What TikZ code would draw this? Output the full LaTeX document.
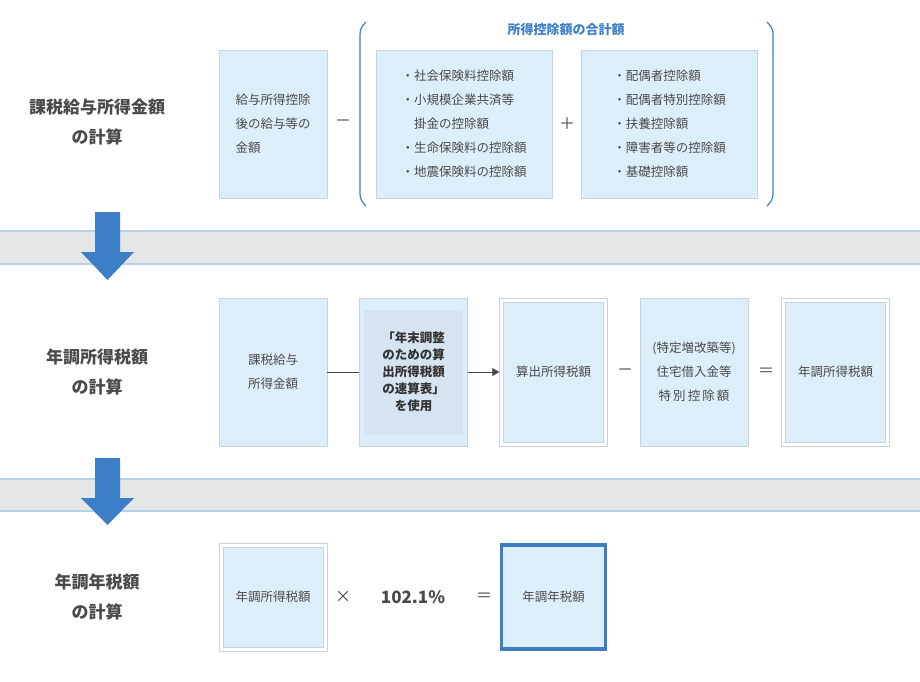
\documentclass[tikz,border=0pt]{standalone}
\usepackage{fontspec}
\setmainfont{Noto Sans CJK JP}
\usetikzlibrary{positioning, arrows.meta}
\definecolor{boxblue}{HTML}{DDEEFB}
\definecolor{boxline}{HTML}{C9D3DC}
\definecolor{innerblue}{HTML}{D6E4F1}
\definecolor{mainblue}{HTML}{3D7FC6}
\definecolor{textgray}{HTML}{4A4A4A}
\definecolor{bandgray}{HTML}{E6E6E6}
\definecolor{bandline}{HTML}{B5D1EC}

\begin{document}
\begin{tikzpicture}[x=1pt, y=-1pt,
        every node/.style={text=textgray},
        calcbox/.style={rectangle, draw=boxline, fill=boxblue, minimum width=108pt, minimum height=148pt, align=center, font=\fontsize{12.5}{24}\selectfont},
        listbox/.style={rectangle, draw=boxline, fill=boxblue, minimum width=176pt, minimum height=148pt, align=left, font=\fontsize{12.5}{24}\selectfont},
        rowlabel/.style={align=center, font=\fontsize{17}{30}\selectfont\bfseries},
        opsign/.style={font=\fontsize{16}{16}\selectfont},
        band/.style={fill=bandgray},
        downarrow/.style={fill=mainblue}
    ]
        \useasboundingbox (0,0) rectangle (920,681);

        % bands between the rows
        \fill[band] (0,230) rectangle (920,265);
        \draw[bandline, line width=2pt] (0,231) -- (920,231) (0,264) -- (920,264);
        \fill[band] (0,478) rectangle (920,512);
        \draw[bandline, line width=2pt] (0,479) -- (920,479) (0,511) -- (920,511);
        \fill[downarrow] (95,212) -- (120,212) -- (120,252) -- (134,252) -- (107.5,280) -- (81,252) -- (95,252) -- cycle;
        \fill[downarrow] (95,458) -- (120,458) -- (120,498) -- (134,498) -- (107.5,525) -- (81,498) -- (95,498) -- cycle;

        % first row
        \node[rowlabel] (lab1) at (97,122) {課税給与所得金額\\の計算};
        \node[calcbox, align=left] (salary) at (273,124) {給与所得控除\\後の給与等の\\金額};
        \node[opsign] (minus1) at (343,123) {－};
        \node[listbox] (dedA) at (464,124) {・社会保険料控除額\\・小規模企業共済等\\\hspace{1em}掛金の控除額\\・生命保険料の控除額\\・地震保険料の控除額};
        \node[opsign] (plus1) at (567,124) {＋};
        \node[listbox] (dedB) at (669.5,124) {・配偶者控除額\\・配偶者特別控除額\\・扶養控除額\\・障害者等の控除額\\・基礎控除額};
        \node[font=\fontsize{13}{13}\selectfont\bfseries, text=mainblue] (total) at (566,30) {所得控除額の合計額};
        \draw[mainblue, line width=1.2pt] (366,22) to[out=225,in=90] (360,34) -- (360,194) to[out=270,in=135] (366,206);
        \draw[mainblue, line width=1.2pt] (767,22) to[out=-45,in=90] (773,34) -- (773,194) to[out=270,in=45] (767,206);

        % second row
        \node[rowlabel] (lab2) at (97,372) {年調所得税額\\の計算};
        \node[calcbox] (taxable) at (273,372) {課税給与\\所得金額};
        \node[calcbox] (table) at (413.5,372) {};
        \fill[innerblue] (364,310) rectangle (463,435);
        \node[align=center, font=\fontsize{12.5}{17}\selectfont\bfseries, text=black!80] (tabletext) at (413.5,372) {「年末調整\\のための算\\出所得税額\\の速算表」\\を使用};
        \node[calcbox, fill=white] (computed) at (553.5,372) {};
        \node[calcbox, minimum width=100pt, minimum height=140pt] (computedin) at (553.5,372) {算出所得税額};
        \node[opsign] (minus2) at (625,372) {－};
        \node[calcbox] (housing) at (694,372) {(特定増改築等)\\住宅借入金等\\特\,別\,控\,除\,額};
        \node[opsign] (equal2) at (766,372) {＝};
        \node[calcbox, fill=white] (annual) at (835.5,372) {};
        \node[calcbox, minimum width=100pt, minimum height=140pt] (annualin) at (835.5,372) {年調所得税額};
        \draw[textgray, line width=0.8pt] (taxable) -- (table);
        \draw[textgray, line width=0.8pt, -{Triangle[length=7pt,width=8pt]}] (table) -- (computed);

        % third row
        \node[rowlabel] (lab3) at (97,597) {年調年税額\\の計算};
        \node[calcbox, fill=white, minimum height=108pt] (incometax) at (273,597) {};
        \node[calcbox, minimum width=100pt, minimum height=100pt] (incometaxin) at (273,597) {年調所得税額};
        \node[opsign] (times3) at (343,597) {×};
        \node[font=\fontsize{17}{17}\selectfont\bfseries] (rate) at (413,597) {102.1\%};
        \node[opsign] (equal3) at (484,597) {＝};
        \node[calcbox, draw=mainblue, line width=3.5pt, minimum width=104pt, minimum height=104pt] (yeartax) at (553.5,597) {年調年税額};
\end{tikzpicture}
\end{document}
